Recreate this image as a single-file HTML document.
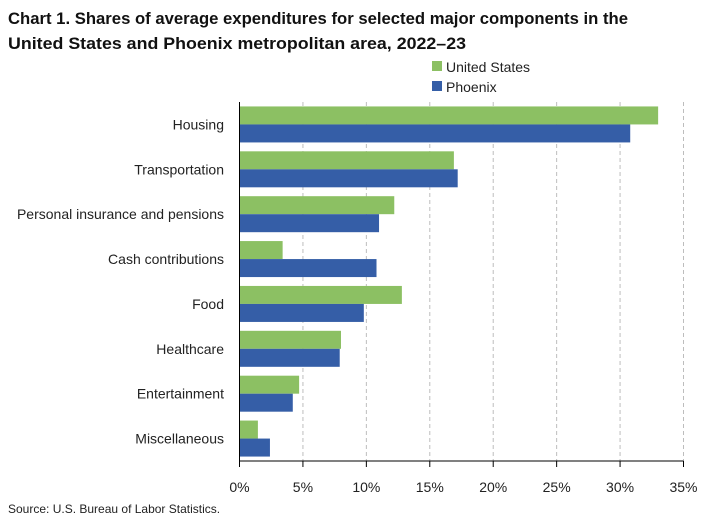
<!DOCTYPE html>
<html><head><meta charset="utf-8"><style>
body{margin:0;background:#fff;font-family:"Liberation Sans",Arial,sans-serif;}
#wrap{position:relative;width:707px;height:523px;overflow:hidden;}
</style></head><body>
<div id="wrap">
<svg id="svg" width="707" height="523" xmlns="http://www.w3.org/2000/svg">
<text x="8" y="24" font-size="17" font-weight="bold" fill="#111" textLength="620" lengthAdjust="spacingAndGlyphs">Chart 1. Shares of average expenditures for selected major components in the</text>
<text x="8" y="49" font-size="17" font-weight="bold" fill="#111" textLength="458" lengthAdjust="spacingAndGlyphs">United States and Phoenix metropolitan area, 2022–23</text>
<g>
<rect x="432" y="61" width="10" height="10" fill="#8cc063"/>
<text x="446" y="72" font-size="14" fill="#222">United States</text>
<rect x="432" y="81" width="10" height="10" fill="#355ea7"/>
<text x="446" y="92" font-size="14" fill="#222">Phoenix</text>
</g>
<g id="plot"></g>
<text x="8" y="513" font-size="12" fill="#222">Source: U.S. Bureau of Labor Statistics.</text>
</svg>
</div>
<script>
const categories=["Housing","Transportation","Personal insurance and pensions","Cash contributions","Food","Healthcare","Entertainment","Miscellaneous"];
const usValues=[33.0,16.9,12.2,3.4,12.8,8.0,4.7,1.45];
const phoenixValues=[30.8,17.2,11.0,10.8,9.8,7.9,4.2,2.4];
const tickValues=[0,5,10,15,20,25,30,35];
const tickLabels=["0%","5%","10%","15%","20%","25%","30%","35%"];
const NS="http://www.w3.org/2000/svg";
const plotG=document.getElementById('plot');
const x0=239.5,x1=683.5,yTop=102,yBottom=461,xmax=35;
const xs=v=>x0+(v/xmax)*(x1-x0);
const band=(yBottom-yTop)/categories.length;
const bh=18;
function mk(t,a){const e=document.createElementNS(NS,t);for(const k in a)e.setAttribute(k,a[k]);plotG.appendChild(e);return e;}
tickValues.forEach((v,i)=>{
 if(v>0){const l=mk('line',{x1:xs(v),x2:xs(v),y1:yTop,y2:yBottom,stroke:'#bdbdbd','stroke-dasharray':'4,3'});
 
 }
 const tk=mk('line',{x1:xs(v),x2:xs(v),y1:yBottom,y2:yBottom+6,stroke:'#000'});
 
 
 const t=mk('text',{x:xs(v),y:yBottom+31,'font-size':14,'text-anchor':'middle',fill:'#222'});
 t.textContent=tickLabels[i];
 
 
});
categories.forEach((c,i)=>{
 const cy=yTop+band*(i+0.5);
 const r1=mk('rect',{x:x0,y:cy-bh,width:xs(usValues[i])-x0,height:bh,fill:'#8cc063'});
 
 
 const r2=mk('rect',{x:x0,y:cy,width:xs(phoenixValues[i])-x0,height:bh,fill:'#355ea7'});
 
 
 const t=mk('text',{x:224,y:cy+5,'font-size':14,'text-anchor':'end',fill:'#222'});
 t.textContent=c;
 
 
});
const ax=mk('line',{x1:x0,x2:x1,y1:yBottom,y2:yBottom,stroke:'#000'});


const ay=mk('line',{x1:x0,x2:x0,y1:yTop,y2:yBottom,stroke:'#000'});


</script>
</body></html>
